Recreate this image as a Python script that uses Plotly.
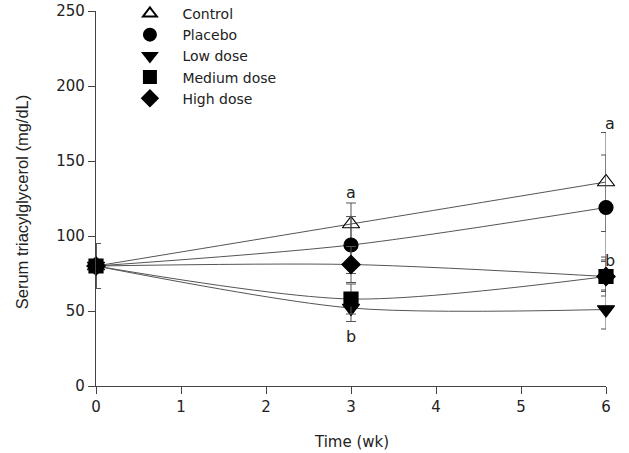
import plotly.graph_objects as go

weeks = [0, 3, 6]
series_names = ["Control", "Placebo", "Low dose", "Medium dose", "High dose"]
control = [80, 108, 136]
placebo = [80, 94, 119]
low_dose = [80, 52, 51]
medium_dose = [80, 58, 73]
high_dose = [80, 81, 73]
control_err = [15, 14, 33]
placebo_err = [15, 19, 35]
low_err = [15, 9, 13]
medium_err = [15, 10, 13]
high_err = [15, 12, 10]
symbols = ["triangle-up-open", "circle", "triangle-down", "square", "diamond"]
letters = [(3, 129, "a"), (3, 33, "b"), (6, 175, "a"), (6, 84, "b")]

values = [control, placebo, low_dose, medium_dose, high_dose]
errs = [control_err, placebo_err, low_err, medium_err, high_err]

def msize(s):
    return 15 if "triangle" in s else 14

fig = go.Figure()
for name, v, e, s in zip(series_names, values, errs, symbols):
    fig.add_trace(go.Scatter(
        x=weeks, y=v, mode="lines+markers", showlegend=False,
        line=dict(color="#555555", width=1, shape="spline", smoothing=0.8),
        marker=dict(symbol=s, size=msize(s), color="black",
                    line=dict(color="#333333" if s.endswith("open") else "black", width=1.2)),
        error_y=dict(type="data", array=e, color="#555555", thickness=1, width=5),
        cliponaxis=False,
    ))
for name, s in zip(series_names, symbols):
    fig.add_trace(go.Scatter(
        x=[None], y=[None], mode="markers", name=name,
        marker=dict(symbol=s, size=msize(s), color="black",
                    line=dict(color="#333333" if s.endswith("open") else "black", width=1)),
    ))

for x, y, t in letters:
    fig.add_annotation(x=x, y=y, text=t, showarrow=False, xshift=4 if x == 6 else 0,
                       font=dict(family="DejaVu Sans", size=16, color="#222"))

axis_common = dict(showline=True, linecolor="#444", linewidth=1.2, ticks="outside",
                   ticklen=7, tickcolor="#444", showgrid=False, zeroline=False,
                   automargin=False,
                   tickfont=dict(family="DejaVu Sans", size=15, color="#222"))
fig.update_xaxes(range=[0, 6], dtick=1, **axis_common)
fig.update_yaxes(range=[0, 250], dtick=50, **axis_common)

fig.add_annotation(xref="paper", yref="paper", x=0.5, y=-0.15, yanchor="middle",
                   text="Time (wk)", showarrow=False,
                   font=dict(family="DejaVu Sans", size=15, color="#222"))
fig.add_annotation(xref="paper", yref="paper", x=-0.145, y=0.49, xanchor="center",
                   yanchor="middle", textangle=-90, text="Serum triacylglycerol (mg/dL)",
                   showarrow=False,
                   font=dict(family="Liberation Sans", size=16.5, color="#222"))

fig.update_layout(
    width=629, height=453, plot_bgcolor="white", paper_bgcolor="white",
    margin=dict(l=96, r=23, t=11, b=67, autoexpand=False),
    legend=dict(x=0.042, y=1.035, xanchor="left", yanchor="top", bgcolor="rgba(0,0,0,0)",
                font=dict(family="DejaVu Sans", size=14, color="#222"),
                itemsizing="constant", itemwidth=55, tracegroupgap=0),
)
fig.write_html("out.html")
